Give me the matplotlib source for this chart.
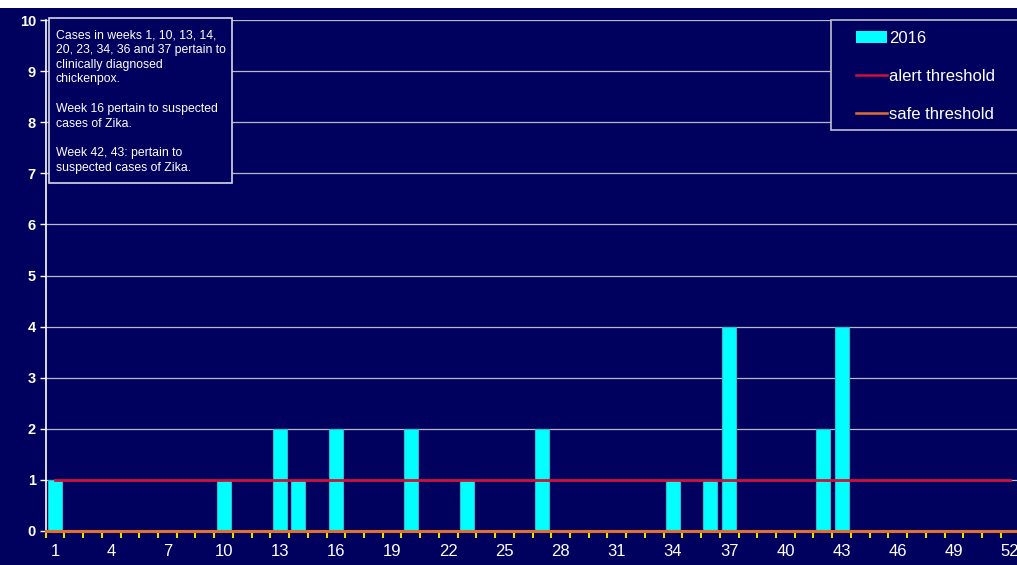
import matplotlib
matplotlib.use("Agg")
import matplotlib.pyplot as plt
from matplotlib.patches import Rectangle, Patch
from matplotlib.lines import Line2D

plt.rcParams['font.family'] = ['Liberation Sans', 'DejaVu Sans']

weeks = list(range(1, 53))
case_weeks = [1, 10, 13, 14, 16, 20, 23, 27, 34, 36, 37, 42, 43]
case_counts = [1, 1, 2, 1, 2, 2, 1, 2, 1, 1, 4, 2, 4]
cases_2016 = [case_counts[case_weeks.index(w)] if w in case_weeks else 0 for w in weeks]
alert_threshold = [1] * 52
safe_threshold = [0] * 52
xtick_labels = list(range(1, 53, 3))
ytick_labels = list(range(0, 11))
note = ("Cases in weeks 1, 10, 13, 14,\n20, 23, 34, 36 and 37 pertain to\n"
        "clinically diagnosed\nchickenpox.\n\nWeek 16 pertain to suspected\n"
        "cases of Zika.\n\nWeek 42, 43: pertain to\nsuspected cases of Zika.")

NAVY = '#00005e'
W, H = 1017, 565
fig = plt.figure(figsize=(W / 100, H / 100), dpi=100)
fig.patch.set_facecolor(NAVY)
# white strip at top
fig.patches.append(Rectangle((0, 1 - 8 / H), 1, 8 / H, transform=fig.transFigure,
                             facecolor='white', edgecolor='none', zorder=0))

x0, x1 = 45.6, 1019.5
y0, y1 = 531, 20
ax = fig.add_axes([x0 / W, (H - y0) / H, (x1 - x0) / W, (y0 - y1) / H])
ax.set_facecolor(NAVY)

ax.bar(weeks, cases_2016, width=0.75, color='#00ffff', edgecolor='#33bbcc',
       linewidth=0.8, zorder=3)
ax.plot(weeks, alert_threshold, color='#d0103a', linewidth=2, zorder=4)
ax.plot([0.5] + weeks + [52.5], [0] + safe_threshold + [0], color='#e07030',
        linewidth=2.2, zorder=4, clip_on=False)

ax.set_xlim(0.5, 52.5)
ax.set_ylim(0, 10)
ax.set_yticks(ytick_labels)
ax.set_yticklabels([str(v) for v in ytick_labels], fontsize=10.5,
                   fontweight='bold', color='white')
ax.grid(axis='y', color='#b8b8c8', linewidth=0.9, zorder=1)
ax.tick_params(axis='y', colors='white', length=4, width=1, pad=3)
ax.set_xticks(xtick_labels)
ax.set_xticklabels([str(v) for v in xtick_labels], fontsize=12, color='white')
ax.tick_params(axis='x', length=0, pad=9)
ax.set_xticks([w + 0.5 for w in range(0, 53)], minor=True)
ax.tick_params(axis='x', which='minor', colors='#e8e000', length=5, width=1.5)

for s in ['top', 'right']:
    ax.spines[s].set_visible(False)
ax.spines['left'].set_color('white')
ax.spines['left'].set_linewidth(1.2)
ax.spines['bottom'].set_color('#e07030')
ax.spines['bottom'].set_linewidth(1.5)

# note box
bx0, bx1, by0, by1 = 49, 232, 18, 183
fig.patches.append(Rectangle((bx0 / W, 1 - by1 / H), (bx1 - bx0) / W, (by1 - by0) / H,
                             transform=fig.transFigure, facecolor=NAVY,
                             edgecolor='#d8d8e8', linewidth=1.2, zorder=5))
fig.text(56 / W, 1 - 29 / H, note, color='white', fontsize=8.8, va='top', ha='left',
         linespacing=1.31, zorder=6)

# legend box
lx0, lx1, ly0, ly1 = 831, 1030, 20, 130
fig.patches.append(Rectangle((lx0 / W, 1 - ly1 / H), (lx1 - lx0) / W, (ly1 - ly0) / H,
                             transform=fig.transFigure, facecolor=NAVY,
                             edgecolor='#c0c0d0', linewidth=1.2, zorder=5))
handles = [Patch(facecolor='#00ffff', edgecolor='none'),
           Line2D([], [], color='#d0103a', linewidth=1.8),
           Line2D([], [], color='#e07030', linewidth=1.8)]
leg = fig.legend(handles, ['2016', 'alert threshold', 'safe threshold'],
                 loc='upper left', bbox_to_anchor=(856 / W, 1 - 31 / H),
                 frameon=False, fontsize=12, labelspacing=1.38, handlelength=1.85,
                 handletextpad=0.15, borderpad=0, borderaxespad=0, handleheight=0.7)
for t in leg.get_texts():
    t.set_color('white')
leg.set_zorder(7)

fig.savefig('out.png', dpi=100, facecolor=fig.get_facecolor())
